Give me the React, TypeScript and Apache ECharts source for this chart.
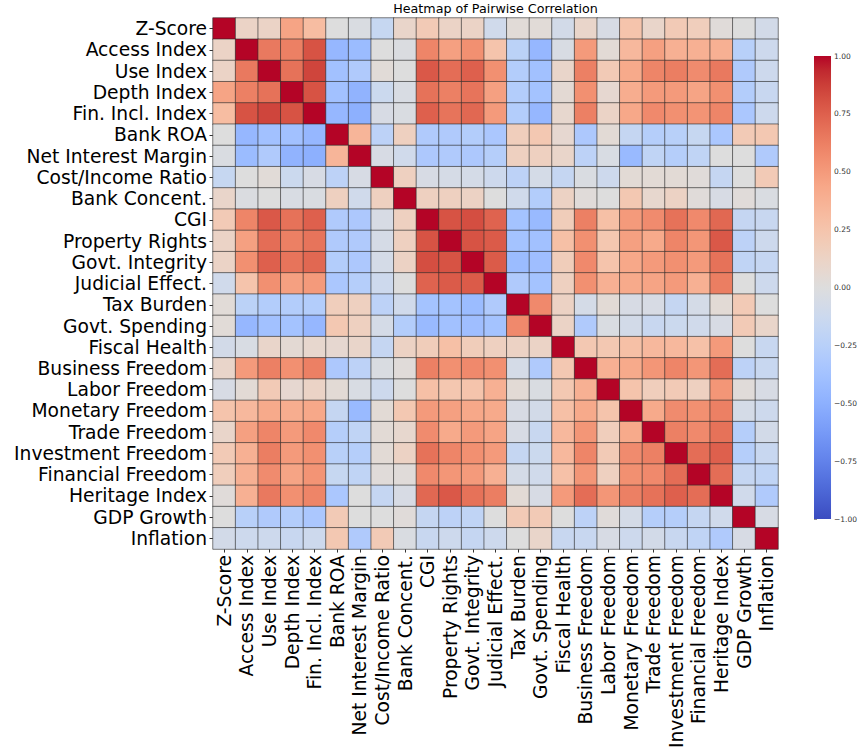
import React, { useEffect, useRef } from "react";
import * as echarts from "echarts";

const LABELS = [
  "Z-Score", "Access Index", "Use Index", "Depth Index", "Fin. Incl. Index",
  "Bank ROA", "Net Interest Margin", "Cost/Income Ratio", "Bank Concent.", "CGI",
  "Property Rights", "Govt. Integrity", "Judicial Effect.", "Tax Burden", "Govt. Spending",
  "Fiscal Health", "Business Freedom", "Labor Freedom", "Monetary Freedom", "Trade Freedom",
  "Investment Freedom", "Financial Freedom", "Heritage Index", "GDP Growth", "Inflation",
];

// Lower triangle of the correlation matrix (row i, columns 0..i-1)
const zScoreRow: number[] = [];
const accessRow = [0.12];
const useRow = [0.12, 0.65];
const depthRow = [0.45, 0.62, 0.68];
const finInclRow = [0.3, 0.8, 0.85, 0.8];
const bankRoaRow = [0.0, -0.45, -0.38, -0.38, -0.45];
const nimRow = [-0.03, -0.42, -0.3, -0.48, -0.5, 0.35];
const costIncomeRow = [-0.16, 0.0, 0.03, -0.13, -0.05, -0.22, -0.05];
const bankConcRow = [0.1, -0.02, 0.0, -0.04, -0.03, 0.15, -0.1, 0.15];
const cgiRow = [0.2, 0.6, 0.78, 0.68, 0.75, -0.3, -0.32, -0.05, 0.15];
const propRightsRow = [0.12, 0.47, 0.7, 0.62, 0.67, -0.3, -0.3, -0.06, 0.15, 0.8];
const govtIntegrityRow = [0.12, 0.55, 0.75, 0.67, 0.72, -0.28, -0.32, -0.07, 0.13, 0.82, 0.8];
const judicialRow = [-0.1, 0.25, 0.55, 0.47, 0.5, -0.33, -0.27, -0.12, 0.0, 0.74, 0.77, 0.77];
const taxBurdenRow = [0.03, -0.23, -0.28, -0.28, -0.28, 0.17, 0.15, -0.22, -0.1, -0.37, -0.37, -0.42, -0.3];
const govtSpendingRow = [0.03, -0.45, -0.38, -0.37, -0.45, 0.22, 0.15, -0.07, -0.28, -0.43, -0.38, -0.4, -0.37, 0.58];
const fiscalHealthRow = [-0.08, -0.04, 0.1, 0.05, 0.08, 0.07, 0.1, -0.17, 0.13, 0.18, 0.28, 0.18, 0.15, 0.13, 0.12];
const businessRow = [0.1, 0.5, 0.62, 0.55, 0.62, -0.32, -0.22, -0.03, 0.02, 0.62, 0.55, 0.58, 0.55, -0.07, -0.3, 0.22];
const laborRow = [-0.05, 0.04, 0.2, 0.07, 0.12, 0.04, -0.04, -0.12, 0.0, 0.28, 0.23, 0.25, 0.38, 0.04, -0.03, 0.22, 0.38];
const monetaryRow = [0.25, 0.33, 0.42, 0.4, 0.43, -0.17, -0.43, 0.04, 0.22, 0.5, 0.47, 0.43, 0.42, -0.05, -0.08, 0.28, 0.42, 0.25];
const tradeRow = [0.1, 0.47, 0.6, 0.5, 0.58, -0.27, -0.2, 0.04, 0.08, 0.57, 0.42, 0.5, 0.45, -0.05, -0.15, 0.33, 0.52, 0.17, 0.42];
const investmentRow = [0.2, 0.38, 0.63, 0.5, 0.55, -0.25, -0.27, 0.04, 0.13, 0.68, 0.6, 0.55, 0.5, -0.17, -0.13, 0.33, 0.6, 0.2, 0.57, 0.62];
const financialRow = [0.17, 0.38, 0.57, 0.45, 0.53, -0.16, -0.2, 0.02, 0.02, 0.58, 0.52, 0.5, 0.38, -0.07, -0.1, 0.27, 0.52, 0.15, 0.55, 0.58, 0.7];
const heritageRow = [0.02, 0.38, 0.65, 0.55, 0.6, -0.33, 0.0, -0.17, -0.05, 0.72, 0.78, 0.68, 0.63, 0.04, -0.05, 0.5, 0.7, 0.52, 0.62, 0.68, 0.75, 0.7];
const gdpGrowthRow = [0.0, -0.25, -0.3, -0.28, -0.33, 0.2, 0.0, 0.0, 0.02, -0.17, -0.22, -0.2, 0.0, 0.2, 0.2, 0.0, -0.22, 0.02, -0.07, -0.27, -0.27, -0.17, -0.1];
const inflationRow = [-0.08, -0.12, -0.12, -0.15, -0.12, 0.22, -0.3, 0.2, -0.03, -0.15, -0.12, -0.17, -0.12, 0.0, 0.1, -0.15, -0.15, -0.05, -0.12, -0.08, -0.15, -0.2, -0.3, -0.05];

const LOWER_ROWS = [
  zScoreRow, accessRow, useRow, depthRow, finInclRow, bankRoaRow, nimRow, costIncomeRow,
  bankConcRow, cgiRow, propRightsRow, govtIntegrityRow, judicialRow, taxBurdenRow,
  govtSpendingRow, fiscalHealthRow, businessRow, laborRow, monetaryRow, tradeRow,
  investmentRow, financialRow, heritageRow, gdpGrowthRow, inflationRow,
];

const COLORBAR_TICKS = [-1, -0.75, -0.5, -0.25, 0, 0.25, 0.5, 0.75, 1];

// matplotlib "coolwarm" (Moreland) 33 stops
const COOLWARM = [
  "#3b4cc0", "#445acc", "#4d68d7", "#5775e1", "#6282ea", "#6c8ef1", "#779af7", "#82a5fb",
  "#8db0fe", "#98b9ff", "#a3c2ff", "#aec9fd", "#b8d0f9", "#c2d5f4", "#ccd9ee", "#d5dbe6",
  "#dddddd", "#e5d8d1", "#ecd3c5", "#f1ccb8", "#f5c4ac", "#f7bba0", "#f7b194", "#f7a788",
  "#f49a7b", "#f18d6f", "#ec7f63", "#e57058", "#de604d", "#d55042", "#cb3e38", "#c0282f",
  "#b40426",
];

function value(i: number, j: number): number {
  if (i === j) return 1;
  return j < i ? LOWER_ROWS[i][j] : LOWER_ROWS[j][i];
}

export default function App() {
  const ref = useRef<HTMLDivElement>(null);
  useEffect(() => {
    if (!ref.current) return;
    const chart = echarts.init(ref.current, undefined, { renderer: "svg" });
    const data: number[][] = [];
    for (let i = 0; i < LABELS.length; i++) {
      for (let j = 0; j < LABELS.length; j++) {
        data.push([j, i, value(i, j)]);
      }
    }
    const font = "DejaVu Sans";
    const stops = COOLWARM.map((c, k) => ({ offset: k / (COOLWARM.length - 1), color: c }));
    const fmt = (v: number) => (v < 0 ? "\u2212" : "") + Math.abs(v).toFixed(2);
    chart.setOption({
      animation: false,
      backgroundColor: "#ffffff",
      title: {
        text: "Heatmap of Pairwise Correlation",
        left: 495.5,
        textAlign: "center",
        top: 2,
        padding: 0,
        textStyle: { fontFamily: font, fontSize: 12.7, fontWeight: "normal", color: "#000" },
      },
      grid: [
        { left: 213, top: 18, width: 565, height: 539 },
        { left: 814, top: 56, width: 24, height: 463 },
      ],
      xAxis: [
        {
          type: "category",
          gridIndex: 0,
          data: LABELS,
          position: "bottom",
          axisLine: { show: false },
          axisTick: { show: true, alignWithLabel: true, length: 3.5, lineStyle: { color: "#000", width: 0.8 } },
          axisLabel: { rotate: 90, interval: 0, fontFamily: font, fontSize: 18.7, color: "#000", margin: 6 },
          splitLine: { show: false },
        },
        { type: "value", gridIndex: 1, min: 0, max: 1, show: false },
      ],
      yAxis: [
        {
          type: "category",
          gridIndex: 0,
          data: LABELS,
          inverse: true,
          axisLine: { show: false },
          axisTick: { show: true, alignWithLabel: true, length: 3.5, lineStyle: { color: "#000", width: 0.8 } },
          axisLabel: { interval: 0, fontFamily: font, fontSize: 18.7, color: "#000", margin: 6 },
          splitLine: { show: false },
        },
        {
          type: "value",
          gridIndex: 1,
          min: -1,
          max: 1,
          interval: 0.25,
          position: "right",
          axisLine: { show: false },
          axisTick: { show: true, length: 3, lineStyle: { color: "#444", width: 0.6 } },
          axisLabel: {
            fontFamily: font,
            fontSize: 7.5,
            color: "#333",
            margin: 3,
            formatter: (v: number) => (COLORBAR_TICKS.includes(v) ? fmt(v) : ""),
          },
          splitLine: { show: false },
        },
      ],
      visualMap: {
        show: false,
        type: "continuous",
        min: -1,
        max: 1,
        dimension: 2,
        seriesIndex: 0,
        inRange: { color: COOLWARM },
      },
      series: [
        {
          type: "heatmap",
          xAxisIndex: 0,
          yAxisIndex: 0,
          data,
          itemStyle: { borderColor: "#2a2a2a", borderWidth: 0.6 },
          emphasis: { disabled: true },
        },
        {
          type: "custom",
          xAxisIndex: 1,
          yAxisIndex: 1,
          silent: true,
          data: [[0.5, 0]],
          renderItem: (params: any, api: any) => {
            const cs = params.coordSys;
            return {
              type: "rect",
              shape: { x: cs.x, y: cs.y, width: cs.width, height: cs.height },
              style: { fill: new echarts.graphic.LinearGradient(0, 1, 0, 0, stops) },
            };
          },
        },
      ],
    });
    return () => chart.dispose();
  }, []);
  return (
    <div
      ref={ref}
      style={{ position: "absolute", left: 0, top: 0, width: 860, height: 751 }}
    />
  );
}
